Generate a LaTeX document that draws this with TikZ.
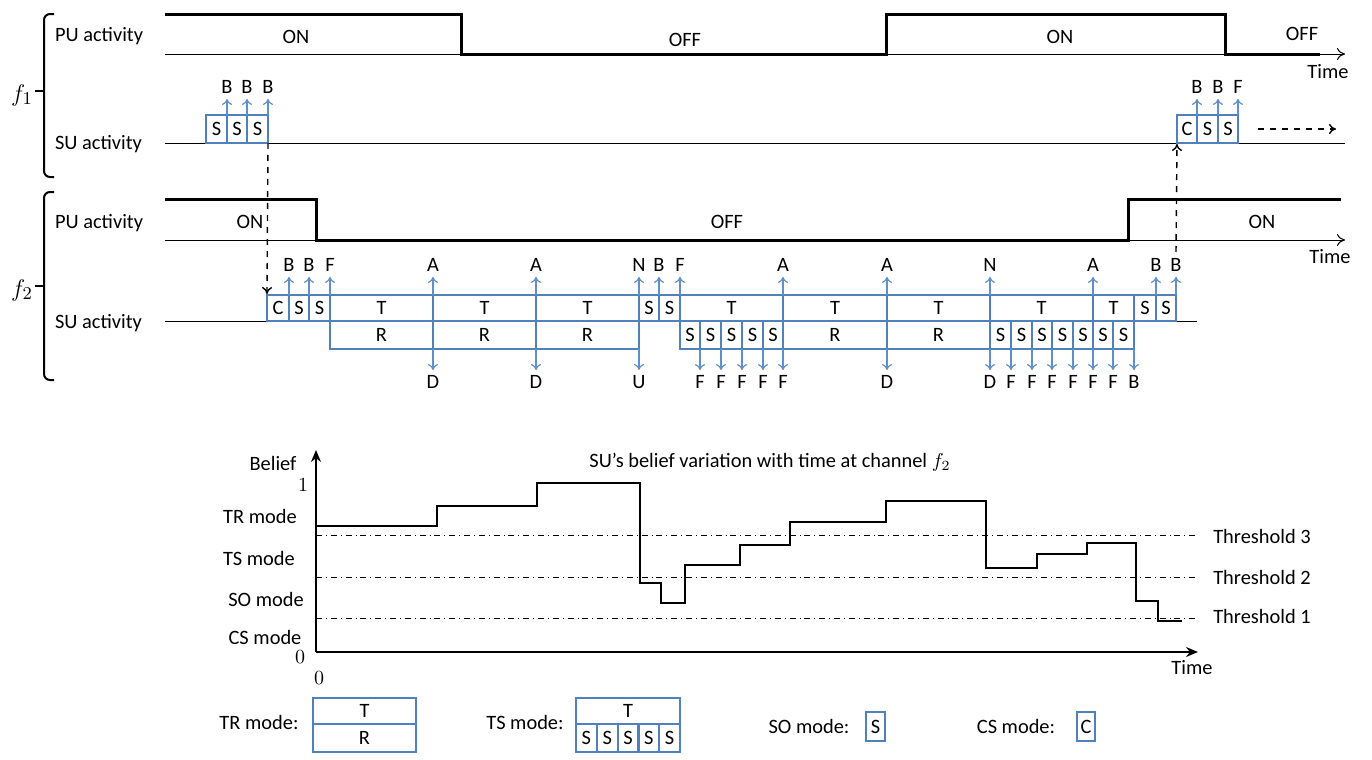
\documentclass[tikz,border=0pt]{standalone}
\usepackage[no-math]{fontspec}
\setmainfont{Carlito}
\usetikzlibrary{arrows.meta}
\definecolor{suBlue}{RGB}{79,129,189}
\definecolor{sigBlue}{RGB}{96,144,204}

\begin{document}
\begin{tikzpicture}[x=0.5pt,y=-0.5pt,
  every node/.style={font=\fontsize{10.2}{12}\selectfont},
  pu/.style={line width=1.5pt},
  axis/.style={line width=0.5pt,-{To[length=4pt,width=6pt]}},
  slot/.style={draw=suBlue,line width=1.1pt},
  sig/.style={draw=sigBlue,line width=0.6pt,-{To[length=3pt,width=5pt]}},
  hop/.style={dashed,line width=0.7pt,-{To[length=3.5pt,width=5pt]}},
  tag/.style={inner sep=2.5pt},
  thr/.style={dash dot,line width=0.4pt},
  belief/.style={line width=1.2pt},
  chan/.style={font=\fontsize{12.5}{14}\selectfont},
  brace/.style={line width=1pt,rounded corners=3pt}
]
\useasboundingbox (0,0) rectangle (1372,760);

% ------------------------------------------------------------
% Channel f1: PU and SU activity
% ------------------------------------------------------------
\draw[brace] (54,14) -- (44,14) -- (44,177) -- (54,177);
\draw[line width=1pt] (35,91) -- (44,91);
\node[chan] (f1) at (22,95) {$f_1$};
\node[anchor=west] (pu1) at (48,36) {PU activity};
\node[anchor=west] (su1) at (48,144) {SU activity};

\draw[axis] (165,54) -- (1345,54);
\draw[pu] (165,14) -- (461,14) -- (461,54) -- (886,54) -- (886,14)
  -- (1225,14) -- (1225,54) -- (1320,54);
\node (on1a) at (296,37) {ON};
\node (off1a) at (685,40) {OFF};
\node (on1b) at (1060,37) {ON};
\node (off1b) at (1302,34) {OFF};
\node (time1) at (1328,72) {Time};

\draw[line width=0.5pt] (165,143) -- (1345,143);
\foreach \xa/\xb/\txt in {206/227/S, 227/247/S, 247/268/S,
                          1177/1197/C, 1197/1218/S, 1218/1238/S}
  \draw[slot] (\xa,115) rectangle node {\txt} (\xb,143);
\foreach \x/\t [count=\i] in {227/B, 247/B, 268/B, 1197/B, 1218/B, 1238/F} {
  \node[tag] (fa\i) at (\x,87) {\t};
  \draw[sig] (\x,115) -- (fa\i);
}

% ------------------------------------------------------------
% Channel f2: PU and SU activity
% ------------------------------------------------------------
\draw[brace] (54,192) -- (44,192) -- (44,380) -- (54,380);
\draw[line width=1pt] (35,286) -- (44,286);
\node[chan] (f2) at (22,290) {$f_2$};
\node[anchor=west] (pu2) at (48,223) {PU activity};
\node[anchor=west] (su2) at (48,323) {SU activity};

\draw[axis] (165,240) -- (1345,240);
\draw[pu] (165,199) -- (316,199) -- (316,240) -- (1128,240) -- (1128,199)
  -- (1341,199);
\node (on2a) at (250,222) {ON};
\node (off2) at (727,222) {OFF};
\node (on2b) at (1262,222) {ON};
\node (time2) at (1330,257) {Time};

\draw[line width=0.5pt] (165,321) -- (267,321);
\draw[line width=0.5pt] (1176,321) -- (1197,321);

% upper row of slots
\foreach \xa/\xb/\txt in {267/289/C, 289/309/S, 309/330/S, 330/433/T,
    433/536/T, 536/639/T, 639/659/S, 659/680/S, 680/783/T, 783/887/T,
    887/990/T, 990/1093/T, 1093/1134/T, 1134/1156/S, 1156/1176/S}
  \draw[slot] (\xa,295) rectangle node {\txt} (\xb,321);
% lower row of slots
\foreach \xa/\xb/\txt in {330/433/R, 433/536/R, 536/639/R,
    680/700/S, 700/721/S, 721/742/S, 742/763/S, 763/783/S,
    783/887/R, 887/990/R,
    990/1011/S, 1011/1032/S, 1032/1052/S, 1052/1073/S, 1073/1093/S,
    1093/1113/S, 1113/1134/S}
  \draw[slot] (\xa,321) rectangle node {\txt} (\xb,349);

% feedback arrows
\foreach \x/\t [count=\i] in {289/B, 309/B, 330/F, 433/A, 536/A, 639/N,
    659/B, 680/F, 783/A, 887/A, 990/N, 1093/A, 1156/B, 1176/B} {
  \node[tag] (up\i) at (\x,265) {\t};
  \draw[sig] (\x,295) -- (up\i);
}
\foreach \x/\t [count=\i] in {433/D, 536/D, 639/U, 700/F, 721/F, 742/F,
    763/F, 783/F, 887/D, 990/D, 1011/F, 1032/F, 1052/F, 1073/F, 1093/F,
    1113/F, 1134/B} {
  \node[tag] (dn\i) at (\x,382) {\t};
  \draw[sig] (\x,349) -- (dn\i);
}

% channel switching
\coordinate (leave1) at (268,143);
\coordinate (enter2) at (267,294);
\coordinate (leave2) at (1176,252);
\coordinate (enter1) at (1177,144);
\coordinate (goon) at (1258,129);
\coordinate (goend) at (1336,129);
\draw[hop] (leave1) -- (enter2);
\draw[hop] (leave2) -- (enter1);
\draw[hop] (goon) -- (goend);

% ------------------------------------------------------------
% Belief variation at f2
% ------------------------------------------------------------
\coordinate (O) at (316,652);
\draw[line width=1.2pt,-{Stealth[length=6pt,width=5pt]}] (O) -- (316,450);
\draw[line width=1.2pt,-{Stealth[length=6pt,width=5pt]}] (O) -- (1198,652);
\node (title) at (770,462) {SU’s belief variation with time at channel $f_2$};
\node (belief) at (273,463) {Belief};
\node (one) at (303,485) {$1$};
\node (zeroy) at (300,657) {$0$};
\node (zerox) at (319,678) {$0$};
\node (timeb) at (1192,668) {Time};
\node (tr) at (260,516) {TR mode};
\node (ts) at (259,558) {TS mode};
\node (so) at (266,599) {SO mode};
\node (cs) at (265,637) {CS mode};

\draw[thr] (316,535) -- (1197,535);
\draw[thr] (316,577) -- (1197,577);
\draw[thr] (316,618) -- (1197,618);
\node (th3) at (1262,536) {Threshold 3};
\node (th2) at (1262,577) {Threshold 2};
\node (th1) at (1262,616) {Threshold 1};

\draw[belief] (316,526) -- (437,526) -- (437,506) -- (537,506) -- (537,483)
  -- (640,483) -- (640,583) -- (661,583) -- (661,603) -- (685,603)
  -- (685,565) -- (740,565) -- (740,545) -- (790,545) -- (790,522)
  -- (886,522) -- (886,501) -- (986,501) -- (986,568) -- (1037,568)
  -- (1037,554) -- (1087,554) -- (1087,543) -- (1136,543) -- (1136,601)
  -- (1158,601) -- (1158,621) -- (1182,621);

% ------------------------------------------------------------
% Legend
% ------------------------------------------------------------
\node (trkey) at (259,722) {TR mode:};
\draw[slot] (313,698) rectangle node {T} (416,724);
\draw[slot] (313,724) rectangle node {R} (416,752);

\node (tskey) at (525,722) {TS mode:};
\draw[slot] (576,698) rectangle node {T} (680,724);
\foreach \k in {0,...,4}
  \draw[slot] ({576+20.8*\k},724) rectangle node {S} ({596.8+20.8*\k},752);

\node (sokey) at (809,726) {SO mode:};
\draw[slot] (866,712) rectangle node {S} (885,741);

\node (cskey) at (1016,726) {CS mode:};
\draw[slot] (1077,712) rectangle node {C} (1095,741);

\end{tikzpicture}
\end{document}
